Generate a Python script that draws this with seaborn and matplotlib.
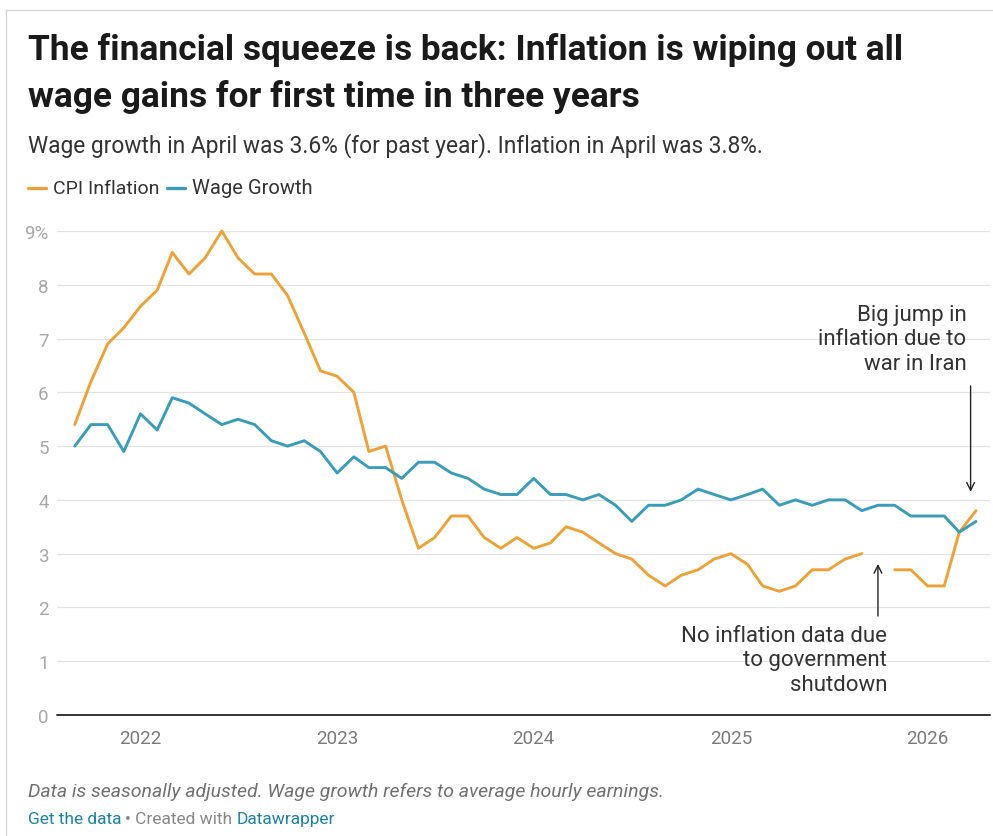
import numpy as np
import pandas as pd
import matplotlib
matplotlib.use("Agg")
import matplotlib.pyplot as plt
from matplotlib.lines import Line2D
import seaborn as sns

# Monthly year-over-year rates, Sep 2021 - Apr 2026 (percent)
months = pd.date_range("2021-09-01", periods=56, freq="MS")
cpi_inflation = [5.4, 6.2, 6.9, 7.2, 7.6, 7.9, 8.6, 8.2, 8.5, 9.0,
                 8.5, 8.2, 8.2, 7.8, 7.1, 6.4, 6.3, 6.0, 4.9, 5.0,
                 4.0, 3.1, 3.3, 3.7, 3.7, 3.3, 3.1, 3.3, 3.1, 3.2,
                 3.5, 3.4, 3.2, 3.0, 2.9, 2.6, 2.4, 2.6, 2.7, 2.9,
                 3.0, 2.8, 2.4, 2.3, 2.4, 2.7, 2.7, 2.9, 3.0, np.nan,
                 2.7, 2.7, 2.4, 2.4, 3.4, 3.8]
wage_growth = [5.0, 5.4, 5.4, 4.9, 5.6, 5.3, 5.9, 5.8, 5.6, 5.4,
               5.5, 5.4, 5.1, 5.0, 5.1, 4.9, 4.5, 4.8, 4.6, 4.6,
               4.4, 4.7, 4.7, 4.5, 4.4, 4.2, 4.1, 4.1, 4.4, 4.1,
               4.1, 4.0, 4.1, 3.9, 3.6, 3.9, 3.9, 4.0, 4.2, 4.1,
               4.0, 4.1, 4.2, 3.9, 4.0, 3.9, 4.0, 4.0, 3.8, 3.9,
               3.9, 3.7, 3.7, 3.7, 3.4, 3.6]
series_names = ["CPI Inflation", "Wage Growth"]
series_colors = ["#eba23a", "#3a9cb8"]
year_ticks = pd.to_datetime(["2022-01-01", "2023-01-01", "2024-01-01",
                             "2025-01-01", "2026-01-01"])
year_labels = ["2022", "2023", "2024", "2025", "2026"]
y_ticks = [0, 1, 2, 3, 4, 5, 6, 7, 8, 9]
y_labels = ["0", "1", "2", "3", "4", "5", "6", "7", "8", "9%"]

# Long table; a missing month starts a new segment so the line breaks there
frames = []
for name, vals in zip(series_names, [cpi_inflation, wage_growth]):
    v = pd.Series(vals, dtype=float)
    seg = v.isna().cumsum()
    frames.append(pd.DataFrame({"date": months, "value": v,
                                "series": name, "segment": f"{name}-" + seg.astype(str)}))
df = pd.concat(frames).dropna(subset=["value"]).reset_index(drop=True)

sns.set_theme(style="white")
plt.rcParams["font.family"] = ["Roboto", "DejaVu Sans"]

W, H = 993, 837
fig = plt.figure(figsize=(W / 100, H / 100), dpi=100)
fig.patch.set_facecolor("white")


def fx(px):
    return px / W


def fy(py):
    return 1 - py / H


ax = fig.add_axes([fx(57), fy(716), fx(990) - fx(57), fy(232) - fy(716)])

sns.lineplot(data=df, x="date", y="value", hue="series", units="segment",
             estimator=None, palette=dict(zip(series_names, series_colors)),
             hue_order=series_names, linewidth=2.1, ax=ax, legend=False,
             zorder=3)
for ln in ax.get_lines():
    ln.set_clip_on(False)
    ln.set_solid_joinstyle("round")
    ln.set_solid_capstyle("round")

ax.set_ylim(0, 9)
ax.set_xlim(pd.Timestamp("2021-07-30"), pd.Timestamp("2026-04-27"))
for y in y_ticks[1:]:
    ax.axhline(y, color="#e3e3e3", lw=0.9, zorder=1)
ax.axhline(0, color="#333333", lw=1.4, zorder=4, clip_on=False)

ax.set_yticks(y_ticks)
ax.set_yticklabels(y_labels, color="#a8a8a8", fontsize=13.5)
ax.set_xticks(year_ticks)
ax.set_xticklabels(year_labels, color="#7a7a7a", fontsize=13.5)
ax.tick_params(axis="y", length=0, pad=6)
ax.tick_params(axis="x", length=0, pad=10)
ax.set_xlabel("")
ax.set_ylabel("")
for s in ax.spines.values():
    s.set_visible(False)

# Annotations
ax.annotate("", xy=(pd.Timestamp("2026-03-22"), 4.15),
            xytext=(pd.Timestamp("2026-03-22"), 6.12),
            arrowprops=dict(arrowstyle="->", color="#222222", lw=1.0,
                            mutation_scale=14, shrinkA=0, shrinkB=0))
ax.text(pd.Timestamp("2026-03-14"), 7.0, "Big jump in\ninflation due to\nwar in Iran",
        ha="right", va="center", multialignment="right", fontsize=16,
        color="#333333", linespacing=1.22)
ax.annotate("", xy=(pd.Timestamp("2025-10-01"), 2.81),
            xytext=(pd.Timestamp("2025-10-01"), 1.84),
            arrowprops=dict(arrowstyle="->", color="#222222", lw=1.0,
                            mutation_scale=14, shrinkA=0, shrinkB=0))
ax.text(pd.Timestamp("2025-10-18"), 1.03, "No inflation data due\nto government\nshutdown",
        ha="right", va="center", multialignment="right", fontsize=16,
        color="#333333", linespacing=1.22)

# Title block
fig.text(fx(28), fy(50), "The financial squeeze is back: Inflation is wiping out all",
         fontsize=25.4, fontweight="bold", color="#1a1a1a", va="center", ha="left")
fig.text(fx(28), fy(97), "wage gains for first time in three years",
         fontsize=25.4, fontweight="bold", color="#1a1a1a", va="center", ha="left")
fig.text(fx(28), fy(146),
         "Wage growth in April was 3.6% (for past year). Inflation in April was 3.8%.",
         fontsize=16.4, color="#333333", va="center", ha="left")

# Legend
leg_y = fy(189)
fig.add_artist(Line2D([fx(28), fx(46)], [leg_y, leg_y], color=series_colors[0], lw=2.4))
fig.text(fx(53), leg_y, series_names[0], fontsize=14, color="#333333", va="center")
fig.add_artist(Line2D([fx(167), fx(185)], [leg_y, leg_y], color=series_colors[1], lw=2.4))
fig.text(fx(192), leg_y, series_names[1], fontsize=14.5, color="#333333", va="center")

# Footer
fig.text(fx(28), fy(792),
         "Data is seasonally adjusted. Wage growth refers to average hourly earnings.",
         fontsize=14, style="italic", color="#707070", va="center")
t1 = fig.text(fx(28), fy(820), "Get the data", fontsize=12.5, color="#1d81a2", va="center")
fig.canvas.draw()
r = fig.canvas.get_renderer()
bb = t1.get_window_extent(r)
t2 = fig.text(bb.x1 / W + fx(4), fy(820), "\u2022 Created with", fontsize=12.5,
              color="#888888", va="center")
bb2 = t2.get_window_extent(r)
fig.text(bb2.x1 / W + fx(4), fy(820), "Datawrapper", fontsize=12.5,
         color="#1d81a2", va="center")

# Frame edges
fig.add_artist(Line2D([fx(6), fx(6)], [0, fy(11)], color="#d8d8d8", lw=1.0))
fig.add_artist(Line2D([fx(6), 1], [fy(11), fy(11)], color="#d8d8d8", lw=1.0))

fig.savefig("out.png", dpi=100, facecolor="white")
